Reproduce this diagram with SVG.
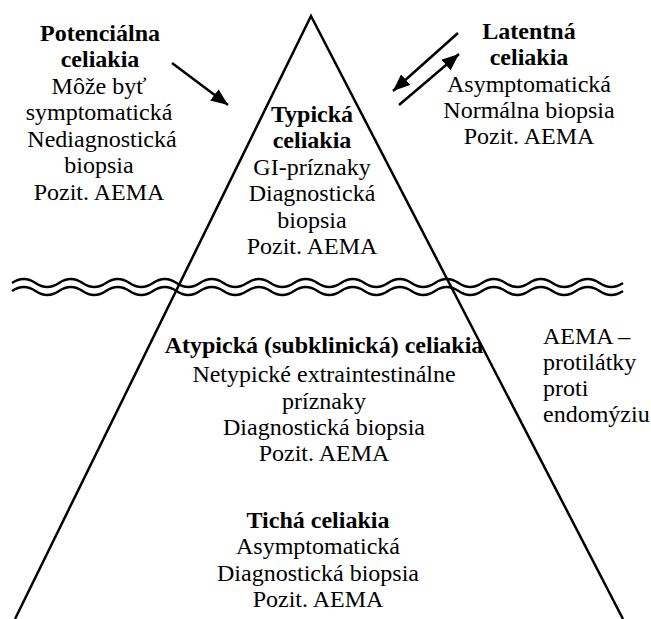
<svg xmlns="http://www.w3.org/2000/svg" width="651" height="619" viewBox="0 0 651 619">
  <style>
    text { font-family: "Liberation Serif", "Times New Roman", serif; font-size: 24px; fill: #000; text-anchor: middle; }
    .b { font-weight: bold; }
    .l { text-anchor: start; }
    .ln { fill: none; stroke: #000; stroke-width: 2.5; }
    .wave { fill: none; stroke: #000; stroke-width: 2.6; }
  </style>
  <defs>
    <marker id="ah" markerUnits="userSpaceOnUse" markerWidth="18" markerHeight="14" refX="17" refY="7" orient="auto">
      <path d="M0,0 L17,7 L0,14 Z" fill="#000"/>
    </marker>
  </defs>

  <g id="iceberg">
    <polyline class="ln" points="15,619 311,16 623,619" stroke-linejoin="miter"/>
  </g>

  <g id="waterline">
    <path class="wave" d="M12,283 q11.75,-8 23.5,0 t23.5,0 t23.5,0 t23.5,0 t23.5,0 t23.5,0 t23.5,0 t23.5,0 t23.5,0 t23.5,0 t23.5,0 t23.5,0 t23.5,0 t23.5,0 t23.5,0 t23.5,0 t23.5,0 t23.5,0 t23.5,0 t23.5,0 t23.5,0 t23.5,0 t23.5,0 t23.5,0 t23.5,0 t23.5,0"/>
    <path class="wave" d="M12,291 q11.75,-8 23.5,0 t23.5,0 t23.5,0 t23.5,0 t23.5,0 t23.5,0 t23.5,0 t23.5,0 t23.5,0 t23.5,0 t23.5,0 t23.5,0 t23.5,0 t23.5,0 t23.5,0 t23.5,0 t23.5,0 t23.5,0 t23.5,0 t23.5,0 t23.5,0 t23.5,0 t23.5,0 t23.5,0 t23.5,0 t23.5,0"/>
  </g>

  <g id="connectors">
    <line class="ln" x1="172" y1="63" x2="228" y2="105" marker-end="url(#ah)"/>
    <line class="ln" x1="458" y1="33" x2="393" y2="91" marker-end="url(#ah)"/>
    <line class="ln" x1="399" y1="105" x2="459" y2="54" marker-end="url(#ah)"/>
  </g>

  <g id="potencialna">
    <text class="b" x="100" y="41">Potenciálna</text>
    <text class="b" x="100" y="67">celiakia</text>
    <text x="99" y="93.5">Môže byť</text>
    <text x="99" y="120">symptomatická</text>
    <text x="102" y="146.5">Nediagnostická</text>
    <text x="99" y="173">biopsia</text>
    <text x="99" y="199.5">Pozit. AEMA</text>
  </g>

  <g id="latentna">
    <text class="b" x="529" y="39">Latentná</text>
    <text class="b" x="529" y="65">celiakia</text>
    <text x="529" y="92">Asymptomatická</text>
    <text x="529" y="118">Normálna biopsia</text>
    <text x="529" y="144">Pozit. AEMA</text>
  </g>

  <g id="typicka">
    <text class="b" x="312" y="122">Typická</text>
    <text class="b" x="312" y="148">celiakia</text>
    <text x="312" y="174.5">GI-príznaky</text>
    <text x="312" y="201">Diagnostická</text>
    <text x="312" y="227.5">biopsia</text>
    <text x="312" y="254">Pozit. AEMA</text>
  </g>

  <g id="atypicka">
    <text class="b" x="324" y="353">Atypická (subklinická) celiakia</text>
    <text x="324" y="382">Netypické extraintestinálne</text>
    <text x="324" y="408.5">príznaky</text>
    <text x="324" y="435">Diagnostická biopsia</text>
    <text x="324" y="461">Pozit. AEMA</text>
  </g>

  <g id="ticha">
    <text class="b" x="318" y="528">Tichá celiakia</text>
    <text x="318" y="554">Asymptomatická</text>
    <text x="318" y="581">Diagnostická biopsia</text>
    <text x="318" y="607">Pozit. AEMA</text>
  </g>

  <g id="aema-note">
    <text class="l" x="543" y="344">AEMA –</text>
    <text class="l" x="543" y="370">protilátky</text>
    <text class="l" x="543" y="396">proti</text>
    <text class="l" x="543" y="422">endomýziu</text>
  </g>
</svg>
